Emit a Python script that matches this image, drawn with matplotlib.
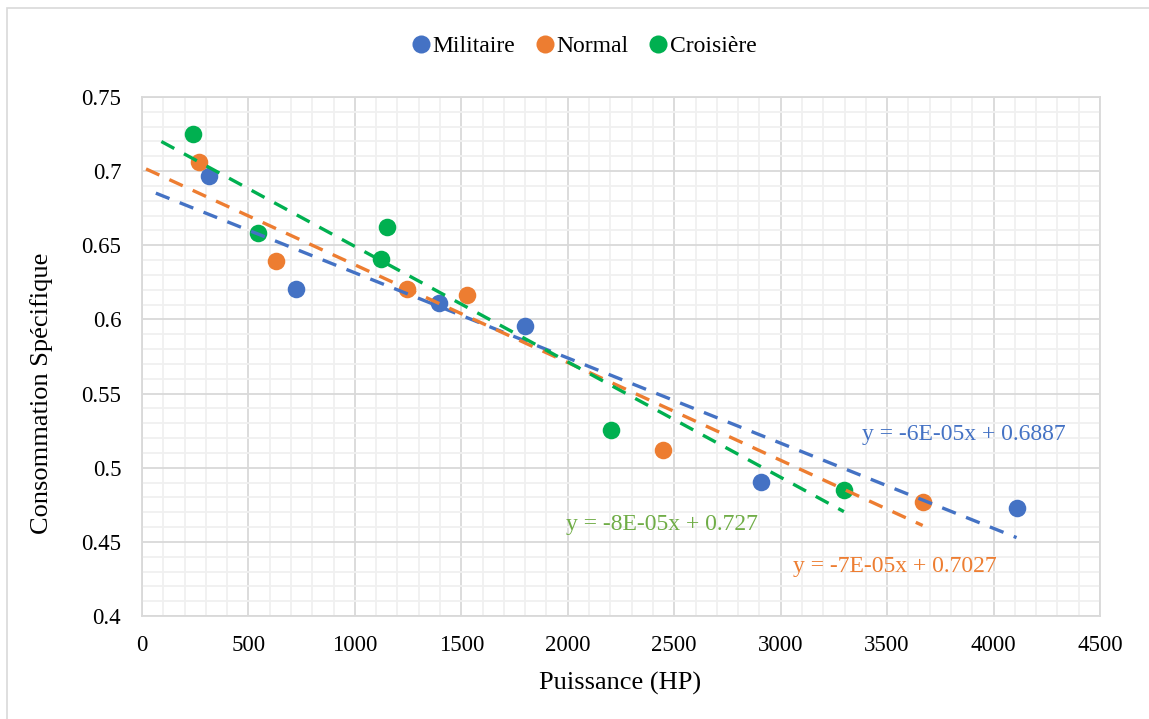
import numpy as np
import matplotlib
matplotlib.use("Agg")
import matplotlib.pyplot as plt
from matplotlib.ticker import MultipleLocator
from matplotlib.lines import Line2D
from matplotlib.patches import Rectangle

plt.rcParams['font.family'] = ['Liberation Serif', 'DejaVu Serif']

# ---- data ----
series_names = ["Militaire", "Normal", "Croisière"]
mil_x = [315, 722, 1396, 1799, 2906, 4108]
mil_y = [0.697, 0.6205, 0.611, 0.5956, 0.4906, 0.4726]
nor_x = [269, 628, 1246, 1528, 2447, 3667]
nor_y = [0.706, 0.6396, 0.6205, 0.6167, 0.5117, 0.477]
cro_x = [241, 546, 1121, 1149, 2201, 3297]
cro_y = [0.725, 0.6585, 0.6405, 0.662, 0.5254, 0.485]
equations = ["y = -6E-05x + 0.6887", "y = -7E-05x + 0.7027", "y = -8E-05x + 0.727"]
x_ticks = [0, 500, 1000, 1500, 2000, 2500, 3000, 3500, 4000, 4500]
y_ticks = [0.4, 0.45, 0.5, 0.55, 0.6, 0.65, 0.7, 0.75]
y_tick_labels = ["0.4", "0.45", "0.5", "0.55", "0.6", "0.65", "0.7", "0.75"]

colors = ["#4472C4", "#ED7D31", "#00B050"]
text_colors = ["#4472C4", "#ED7D31", "#70AD47"]
backward = [250, 250, 150]
eq_pos = [(3382, 0.5227), (3058, 0.4337), (1991, 0.4614)]

W, H = 1149, 719
fig = plt.figure(figsize=(W/100, H/100), dpi=100)
ax = fig.add_axes([142/W, 1-616/H, (1100-142)/W, (616-97)/H])

# outer border (partial, as in the reference crop)
fig.patches.append(Rectangle((7/W, -0.1), 1.2, 1 - 8/H + 0.1, transform=fig.transFigure,
                             fill=False, edgecolor="#d9d9d9", linewidth=1.2))

ax.set_xlim(0, 4500)
ax.set_ylim(0.4, 0.75)
ax.xaxis.set_minor_locator(MultipleLocator(100))
ax.yaxis.set_minor_locator(MultipleLocator(0.01))
ax.set_xticks(x_ticks)
ax.set_xticklabels([str(v) for v in x_ticks])
ax.set_yticks(y_ticks)
ax.set_yticklabels(y_tick_labels)
ax.grid(which='minor', color="#f0f0f0", linewidth=1.3, zorder=0)
ax.grid(which='major', color="#d9d9d9", linewidth=1.3, zorder=0)
ax.set_axisbelow(True)
for s in ax.spines.values():
    s.set_color("#d9d9d9")
    s.set_linewidth(1.3)
ax.tick_params(which='both', length=0)
ax.tick_params(axis='y', labelsize=16.5, pad=15)
ax.tick_params(axis='x', labelsize=16.5, pad=14)

xs = [mil_x, nor_x, cro_x]
ys = [mil_y, nor_y, cro_y]
for i in range(3):
    ax.scatter(xs[i], ys[i], s=160, color=colors[i], zorder=3, linewidths=0)
for i in range(3):
    x = np.array(xs[i], dtype=float)
    y = np.array(ys[i], dtype=float)
    m, b = np.polyfit(x, y, 1)
    xl = np.array([x.min() - backward[i], x.max()])
    ax.plot(xl, m * xl + b, color=colors[i], linewidth=2.4,
            linestyle=(0, (4.4, 3.3)), zorder=4)
    ax.text(eq_pos[i][0], eq_pos[i][1], equations[i], color=text_colors[i],
            fontsize=17, ha='left', va='center', zorder=5)

fig.text(620/W, 1-683/H, "Puissance (HP)", fontsize=19, ha='center', va='center')
fig.text(42/W, 1-393/H, "Consommation Spécifique", fontsize=19, ha='center',
         va='center', rotation=90)

handles = [Line2D([], [], marker='o', linestyle='none', markersize=13,
                  markerfacecolor=c, markeredgewidth=0) for c in colors]
fig.legend(handles, series_names, loc='center', bbox_to_anchor=(583/W, 1 - 46.7/H),
           ncol=3, frameon=False, fontsize=17, handletextpad=0.0,
           columnspacing=0.75, handlelength=1.0, borderpad=0, borderaxespad=0)

fig.savefig("out.png", dpi=100)
